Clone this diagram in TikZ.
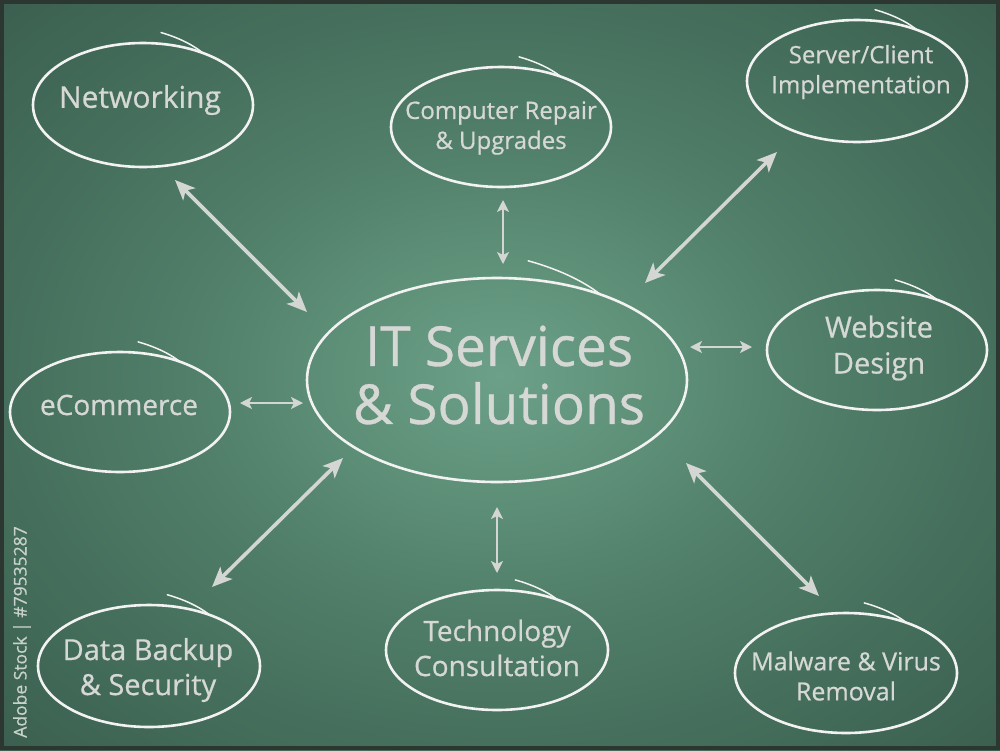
\documentclass[tikz,border=0pt]{standalone}
\usepackage{fontspec}
\setmainfont{Open Sans}[FakeBold=0.6]
\usetikzlibrary{arrows.meta,calc}
\definecolor{bgA}{RGB}{108,160,136}
\definecolor{bgB}{RGB}{96,146,122}
\definecolor{bgC}{RGB}{80,126,105}
\definecolor{bgD}{RGB}{69,111,92}
\definecolor{bgE}{RGB}{60,96,80}
\definecolor{chalk}{RGB}{242,242,242}
\definecolor{chalktext}{RGB}{214,216,214}
\definecolor{arrowgrey}{RGB}{212,214,212}
\definecolor{framec}{RGB}{45,55,50}
\definecolor{wmark}{RGB}{200,210,204}
\pgfdeclareradialshading{board}{\pgfpoint{0bp}{0bp}}{color(0bp)=(bgA); color(7bp)=(bgB); color(16bp)=(bgC); color(25bp)=(bgD); color(35bp)=(bgE); color(50bp)=(bgE)}
\tikzset{
  oval/.style={draw=chalk, line width=2.6pt},
  ovaltail/.style={draw=chalk, line width=1.5pt, line cap=round},
  lbl/.style={text=chalktext, align=center, inner sep=0pt},
  bigarr/.style={draw=arrowgrey, line width=3.6pt,
    {Stealth[length=20pt,width=17pt,inset=5pt]}-{Stealth[length=20pt,width=17pt,inset=5pt]}},
  smallarr/.style={draw=arrowgrey, line width=2pt,
    {Stealth[length=12pt,width=12pt,inset=3pt]}-{Stealth[length=12pt,width=12pt,inset=3pt]}}
}
\newcommand{\chalkoval}[4]{%
  \draw[oval] (#1,#2) ellipse [x radius=#3, y radius=#4];
  \draw[ovaltail] plot[domain=-82:-57, samples=20, smooth]
    ({#1+(1.18-0.18*(\x+82)/25)*#3*cos(\x)},{#2+(1.18-0.18*(\x+82)/25)*#4*sin(\x)});
}
\begin{document}
\begin{tikzpicture}[x=1pt,y=-1pt]
\useasboundingbox (0,0) rectangle (1000,750);
\shade[shading=board] (0,0) rectangle (1000,750);
\draw[framec, line width=4pt] (2,2) rectangle (998,748);

% ovals
\chalkoval{143}{105}{110}{62}
\chalkoval{501}{127}{110}{60}
\chalkoval{857}{81}{110}{61}
\chalkoval{877}{350}{110}{60}
\chalkoval{120}{412}{110}{60}
\chalkoval{497}{380}{190}{102}
\chalkoval{149}{666}{111}{61}
\chalkoval{497}{650}{111}{60}
\chalkoval{846}{673}{111}{60}

% labels
\node[lbl, font=\fontsize{30}{32}\selectfont] (net) at (140,100) {Networking};
\node[lbl, font=\fontsize{24}{30}\selectfont] (rep) at (501,128) {Computer Repair\\\& Upgrades};
\node[lbl, font=\fontsize{24}{30}\selectfont] (srv) at (861,72) {Server/Client\\Implementation};
\node[lbl, font=\fontsize{29}{36}\selectfont] (web) at (879,348) {Website\\Design};
\node[lbl, font=\fontsize{28}{30}\selectfont] (eco) at (119,405) {eCommerce};
\node[lbl, font=\fontsize{55}{58}\selectfont] (its) at (499,375) {IT Services\\\& Solutions};
\node[lbl, font=\fontsize{29}{35}\selectfont] (dat) at (148,670) {Data Backup\\\& Security};
\node[lbl, font=\fontsize{28}{35}\selectfont] (tec) at (497,648) {Technology\\Consultation};
\node[lbl, font=\fontsize{25}{30}\selectfont] (mal) at (846,676) {Malware \& Virus\\Removal};

% watermark
\node[rotate=90, text=wmark, font=\fontsize{17.5}{19}\selectfont, inner sep=0pt] (wm) at (22,632) {Adobe Stock | \#79535287};

% arrow end points
\coordinate (a1s) at (175,180); \coordinate (a1e) at (307,312);
\coordinate (a2s) at (503,200); \coordinate (a2e) at (503,264);
\coordinate (a3s) at (777,152); \coordinate (a3e) at (645,283);
\coordinate (a4s) at (690,347); \coordinate (a4e) at (752,347);
\coordinate (a5s) at (240,403); \coordinate (a5e) at (303,403);
\coordinate (a6s) at (343,458); \coordinate (a6e) at (212,587);
\coordinate (a7s) at (497,507); \coordinate (a7e) at (497,573);
\coordinate (a8s) at (686,463); \coordinate (a8e) at (819,596);

\draw[bigarr] (a1s) -- (a1e);
\draw[smallarr] (a2s) -- (a2e);
\draw[bigarr] (a3s) -- (a3e);
\draw[smallarr] (a4s) -- (a4e);
\draw[smallarr] (a5s) -- (a5e);
\draw[bigarr] (a6s) -- (a6e);
\draw[smallarr] (a7s) -- (a7e);
\draw[bigarr] (a8s) -- (a8e);
\end{tikzpicture}
\end{document}
